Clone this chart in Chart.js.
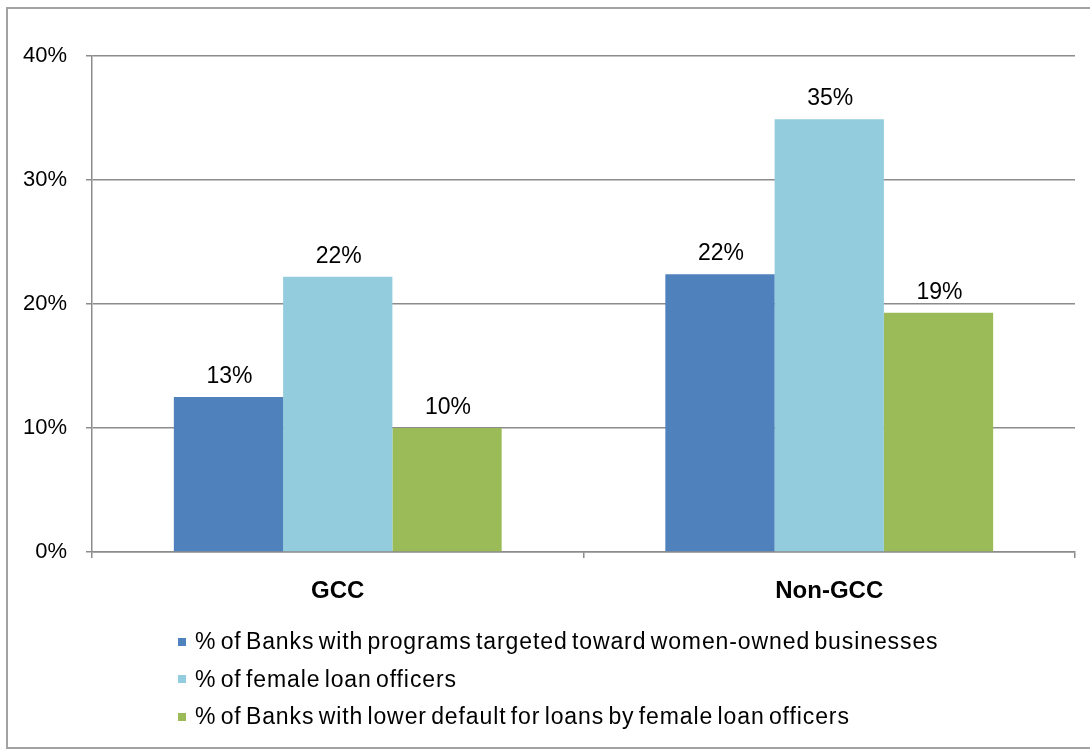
<!DOCTYPE html>
<html lang="en">
<head>
<meta charset="UTF-8">
<title>Banks and female loan officers: GCC vs Non-GCC</title>
<script src="https://cdn.jsdelivr.net/npm/chart.js"></script>
<style>
  body {
    margin: 0;
    background: #fff;
    font-family: "Liberation Sans", Arial, sans-serif;
  }
  #wrap {
    position: relative;
    width: 1090px;
    height: 749px;
    overflow: hidden;
  }
  #frame {
    position: absolute;
    left: 6px;
    top: 7px;
    width: 1110px;
    height: 742px;
    border: 2px solid #a3a3a3;
    box-sizing: border-box;
  }
  #chart {
    position: absolute;
    left: 0;
    top: 0;
  }
  #legend {
    position: absolute;
    left: 178px;
    top: 623px;
    font-size: 23px;
    color: #000;
    letter-spacing: 0.9px;
    word-spacing: -3px;
  }
  .legend-item {
    display: flex;
    align-items: center;
    height: 37.5px;
    white-space: nowrap;
  }
  .swatch {
    width: 8px;
    height: 8px;
    margin-right: 9px;
    flex: none;
  }
</style>
</head>
<body>
<div id="wrap">
  <div id="frame"></div>
  <canvas id="chart" width="1090" height="749"></canvas>
  <div id="legend"></div>
</div>

<script>
  // Regions on the category axis
  const regions = ['GCC', 'Non-GCC'];

  // Series names, in legend order
  const seriesNames = [
    '% of Banks with programs targeted toward women-owned businesses',
    '% of female loan officers',
    '% of Banks with lower default for loans by female loan officers'
  ];

  // Values in percent, one array per series (GCC, Non-GCC)
  const programsTargeted = [12.5, 22.4];
  const femaleOfficers = [22.2, 34.9];
  const lowerDefault = [10.0, 19.3];

  // Y axis range and step, in percent
  const yTicks = [0, 10, 20, 30, 40];

  const seriesColors = ['#4F81BD', '#93CDDD', '#9BBB59'];
  const lineColor = '#8c8c8c';

  Chart.defaults.font.family = '"Liberation Sans", Arial, sans-serif';
  Chart.defaults.color = '#000';

  // Writes the rounded value above each bar
  const barValueLabels = {
    id: 'barValueLabels',
    afterDatasetsDraw(chart) {
      const ctx = chart.ctx;
      ctx.save();
      ctx.font = '23px "Liberation Sans", Arial, sans-serif';
      ctx.fillStyle = '#000';
      ctx.textAlign = 'center';
      ctx.textBaseline = 'alphabetic';
      chart.data.datasets.forEach((ds, i) => {
        chart.getDatasetMeta(i).data.forEach((bar, j) => {
          ctx.fillText(Math.round(ds.data[j]) + '%', bar.x + 1, bar.y - 14);
        });
      });
      ctx.restore();
    }
  };

  const seriesData = [programsTargeted, femaleOfficers, lowerDefault];

  const chart = new Chart(document.getElementById('chart'), {
    type: 'bar',
    data: {
      labels: regions,
      datasets: seriesNames.map((name, i) => ({
        label: name,
        data: seriesData[i],
        backgroundColor: seriesColors[i],
        borderWidth: 0,
        barPercentage: 1,
        categoryPercentage: 0.667
      }))
    },
    options: {
      responsive: false,
      animation: false,
      layout: {
        padding: { top: 56, right: 15, bottom: 137, left: 0 }
      },
      plugins: {
        legend: { display: false },
        tooltip: { enabled: false }
      },
      scales: {
        x: {
          grid: {
            offset: true,
            drawOnChartArea: false,
            drawTicks: true,
            tickLength: 6,
            color: lineColor,
            lineWidth: 1.5
          },
          border: { color: lineColor, width: 1.5 },
          ticks: {
            font: { size: 24, weight: 'bold' },
            color: '#000',
            padding: 19
          },
          afterFit(scale) { scale.height = 60; }
        },
        y: {
          min: yTicks[0],
          max: yTicks[yTicks.length - 1],
          ticks: {
            stepSize: yTicks[1] - yTicks[0],
            callback: v => v + '%',
            font: { size: 22 },
            color: '#000',
            padding: 19
          },
          grid: {
            color: lineColor,
            lineWidth: 1.5,
            tickLength: 6
          },
          border: { color: lineColor, width: 1.5 },
          afterFit(scale) { scale.width = 92; }
        }
      }
    },
    plugins: [barValueLabels]
  });

  // Legend: one series per row, left aligned
  const legend = document.getElementById('legend');
  chart.data.datasets.forEach(ds => {
    const row = document.createElement('div');
    row.className = 'legend-item';
    const sw = document.createElement('span');
    sw.className = 'swatch';
    sw.style.background = ds.backgroundColor;
    const txt = document.createElement('span');
    txt.textContent = ds.label;
    row.appendChild(sw);
    row.appendChild(txt);
    legend.appendChild(row);
  });
</script>
</body>
</html>
